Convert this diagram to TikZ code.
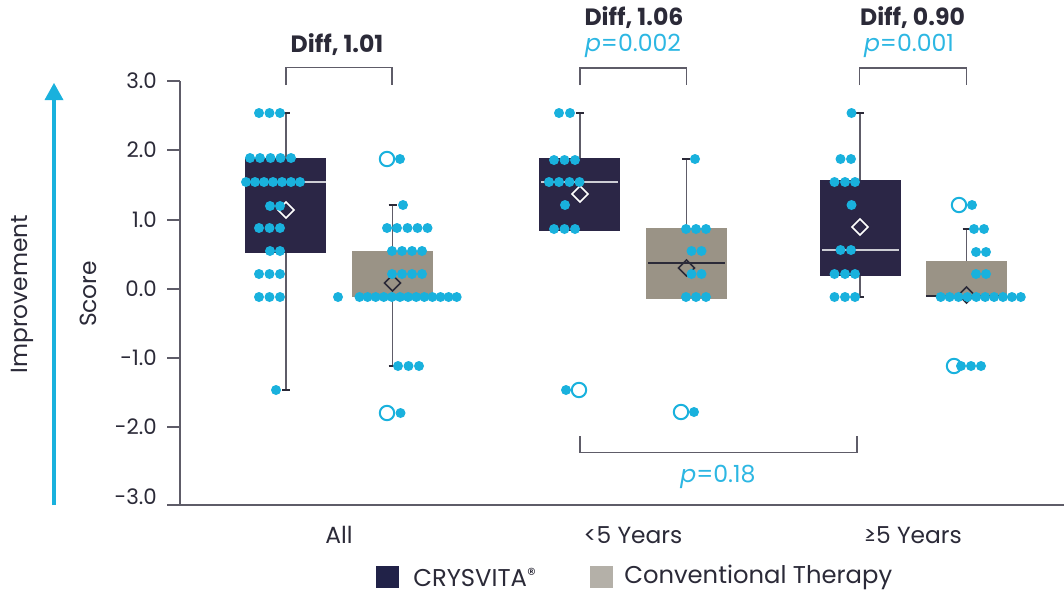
\documentclass[tikz,border=0pt]{standalone}
\usepackage{fontspec}
\setmainfont{Poppins}
\definecolor{dotc}{RGB}{25,177,221}
\definecolor{pc}{RGB}{45,183,227}
\definecolor{navy}{RGB}{43,38,70}
\definecolor{grayb}{RGB}{154,147,134}
\definecolor{legnavy}{RGB}{33,34,72}
\definecolor{leggray}{RGB}{180,176,168}
\definecolor{darkc}{RGB}{43,42,56}
\definecolor{axisc}{RGB}{94,92,104}
\definecolor{medc}{RGB}{205,205,212}
\newcommand\dotrow[2]{\foreach \xx in {#2} \fill[dot] (\xx,#1) circle[radius=3.75pt];}
\newcommand\opencirc[2]{\draw[ocirc] (#1,#2) circle[radius=5.4pt];}
\newcommand\mydiam[3]{\draw[#1] ({#2-8},#3) -- (#2,{#3-8}) -- ({#2+8},#3) -- (#2,{#3+8}) -- cycle;}
\begin{document}
\begin{tikzpicture}[x=0.75pt,y=-0.75pt,
  dot/.style={fill=dotc},
  ocirc/.style={draw=dotc,line width=1.5pt,fill=white},
  whisk/.style={draw=axisc,line width=1.1pt},
  capline/.style={draw=darkc,line width=1.1pt},
  crys/.style={fill=navy},
  conv/.style={fill=grayb},
  diamW/.style={draw=white,line width=1.1pt},
  diamD/.style={draw=darkc,line width=1.1pt},
  medW/.style={draw=medc,line width=1.1pt},
  medD/.style={draw=darkc,line width=1.1pt},
  bracket/.style={draw=axisc,line width=1.1pt},
  axisline/.style={draw=axisc,line width=1.1pt},
  ticklab/.style={anchor=east,text=darkc,font=\fontsize{16}{16}\selectfont,inner sep=0pt},
  lab/.style={text=darkc,font=\fontsize{17.5}{17.5}\selectfont,inner sep=0pt},
  leglab/.style={text=darkc,font=\fontsize{18.2}{18.2}\selectfont,inner sep=0pt,anchor=west},
  difflab/.style={text=darkc,font=\fontsize{17.7}{17.7}\selectfont\bfseries,inner sep=0pt},
  plab/.style={text=pc,font=\fontsize{17.7}{17.7}\selectfont,inner sep=0pt},
]
\useasboundingbox (0,0) rectangle (1064,594);
\fill[white] (0,0) rectangle (1064,594);

% improvement arrow
\coordinate (arB) at (54,505);
\coordinate (arT) at (54,98);
\draw[dotc,line width=2.3pt] (arB) -- (arT);
\fill[dotc] (44.5,100) -- (63.5,100) -- (54,83) -- cycle;
\node[lab,rotate=90] (impr) at (22,294) {Improvement};
\node[lab,rotate=90] (score) at (88,294) {Score};

% axes
\coordinate (axT) at (180,81);
\coordinate (axB) at (180,505);
\coordinate (axL) at (167,505);
\coordinate (axR) at (1064,505);
\draw[axisline] (axT) -- (axB);
\draw[axisline] (axL) -- (axR);
\foreach \v/\yy in {3.0/81,2.0/150,1.0/220,0.0/289,-1.0/358,-2.0/427}{
  \draw[axisline] (167,\yy) -- (180,\yy);
  \node[ticklab] at (157,\yy) {\v};
}
\node[ticklab] (tm3) at (157,497) {-3.0};

% ===== All: CRYSVITA
\draw[whisk] (286,113) -- (286,390);
\draw[capline] (282,113) -- (290,113);
\draw[capline] (282,390) -- (290,390);
\fill[crys] (245,158) rectangle (326,253);
\draw[medW] (247,182) -- (326,182);
\mydiam{diamW}{286}{210}
\dotrow{113}{259,269.5,280}
\dotrow{158}{250,260,270.5,280.5,291}
\dotrow{182}{246,255,264,273,282,291,300}
\dotrow{206}{270,280}
\dotrow{228}{259,269.5,280}
\dotrow{251}{270,280}
\dotrow{274}{259,269.5,280}
\dotrow{297}{259,269.5,280}
\dotrow{390}{276}

% ===== All: Conventional
\draw[whisk] (392.5,205) -- (392.5,366);
\draw[capline] (388.5,205) -- (396.5,205);
\draw[capline] (388.5,366) -- (396.5,366);
\fill[conv] (352,251) rectangle (433,297);
\mydiam{diamD}{392.5}{283}
\opencirc{387}{159}
\opencirc{387}{413}
\dotrow{159}{400}
\dotrow{205}{403}
\dotrow{228}{387,397,407.5,417.5,427.5}
\dotrow{251}{392,402,412,422}
\dotrow{274}{392,402,412,422}
\dotrow{297}{338,359.5,367.6,375.7,383.8,391.9,400,408.1,416.2,424.3,432.4,440.5,448.6,456.7}
\dotrow{366}{398,408.5,419}
\dotrow{413}{400.5}

% ===== <5: CRYSVITA
\draw[whisk] (580,113) -- (580,158);
\draw[capline] (576,113) -- (584,113);
\fill[crys] (539,158) rectangle (620,231);
\draw[medW] (541,182) -- (618,182);
\mydiam{diamW}{580}{194}
\dotrow{113}{559,570}
\dotrow{160}{554,564.5,575}
\dotrow{182}{549,559,569.5,579.5}
\dotrow{205}{565}
\dotrow{229}{554,564.5,575}
\dotrow{390}{566}
\opencirc{579}{390}

% ===== <5: Conventional
\draw[whisk] (686.5,159) -- (686.5,228);
\draw[capline] (682,159) -- (690,159);
\fill[conv] (646,228) rectangle (727,299);
\draw[medD] (648,263) -- (725,263);
\mydiam{diamD}{686.5}{268}
\dotrow{159}{695}
\dotrow{229}{686,696,706}
\dotrow{251}{691.5,701.5}
\dotrow{274}{691.5,701.5}
\dotrow{297}{686,696,706}
\opencirc{681}{412}
\dotrow{412}{694}

% ===== >=5: CRYSVITA
\draw[whisk] (860,113) -- (860,297);
\draw[capline] (856,113) -- (864,113);
\draw[capline] (856,297) -- (864,297);
\fill[crys] (820,180) rectangle (901,276);
\draw[medW] (822,250) -- (899,250);
\mydiam{diamW}{860}{227}
\dotrow{113}{851.5}
\dotrow{159}{840.5,851}
\dotrow{182}{834.5,845,855}
\dotrow{205}{851.5}
\dotrow{250}{840.5,851}
\dotrow{274}{834.5,845,855}
\dotrow{297}{834.5,845,855}

% ===== >=5: Conventional
\draw[whisk] (966.5,229) -- (966.5,296);
\draw[capline] (962.5,229) -- (970.5,229);
\fill[conv] (926,261) rectangle (1007,296);
\draw[medD] (926,296) -- (1007,296);
\mydiam{diamD}{966.5}{295}
\opencirc{959}{205}
\dotrow{205}{972}
\dotrow{229}{974,984}
\dotrow{252}{976,986}
\dotrow{274}{976,986}
\dotrow{297}{940.7,949.6,958.5,967.4,976.3,985.2,994.1,1003,1011.9,1020.8}
\opencirc{954}{366}
\dotrow{366}{961,971,981}

% ===== brackets
\coordinate (b1a) at (286,85); \coordinate (b1b) at (392,85);
\draw[bracket] (b1a) -- (286,67.5) -- (392,67.5) -- (b1b);
\coordinate (b2a) at (580,85); \coordinate (b2b) at (686.5,85);
\draw[bracket] (b2a) -- (580,68) -- (686.5,68) -- (b2b);
\coordinate (b3a) at (859.5,85); \coordinate (b3b) at (966.5,85);
\draw[bracket] (b3a) -- (859.5,68) -- (966.5,68) -- (b3b);
\coordinate (b4a) at (580,436); \coordinate (b4b) at (857,436);
\draw[bracket] (b4a) -- (580,452.5) -- (857,452.5) -- (b4b);

\node[difflab] (d1) at (337,45) {Diff, 1.01};
\node[difflab] (d2) at (634,18) {Diff, 1.06};
\node[plab] (p2) at (633,46) {\textit{p}=0.002};
\node[difflab] (d3) at (912.5,18) {Diff, 0.90};
\node[plab] (p3) at (909,46) {\textit{p}=0.001};
\node[plab] (p4) at (718,477) {\textit{p}=0.18};

% x labels
\node[lab] (xa) at (339,535) {All};
\node[lab] (xb) at (633,535) {<5 Years};
\node[lab] (xc) at (913,535) {≥5 Years};

% legend
\fill[legnavy] (376,566) rectangle (399,588);
\node[leglab] (l1) at (413,577) {CRYSVITA\raisebox{0.45ex}{\fontsize{13}{13}\selectfont ®}};
\fill[leggray] (590,566) rectangle (613,588);
\node[leglab] (l2) at (624,577) {Conventional Therapy};
\end{tikzpicture}
\end{document}
